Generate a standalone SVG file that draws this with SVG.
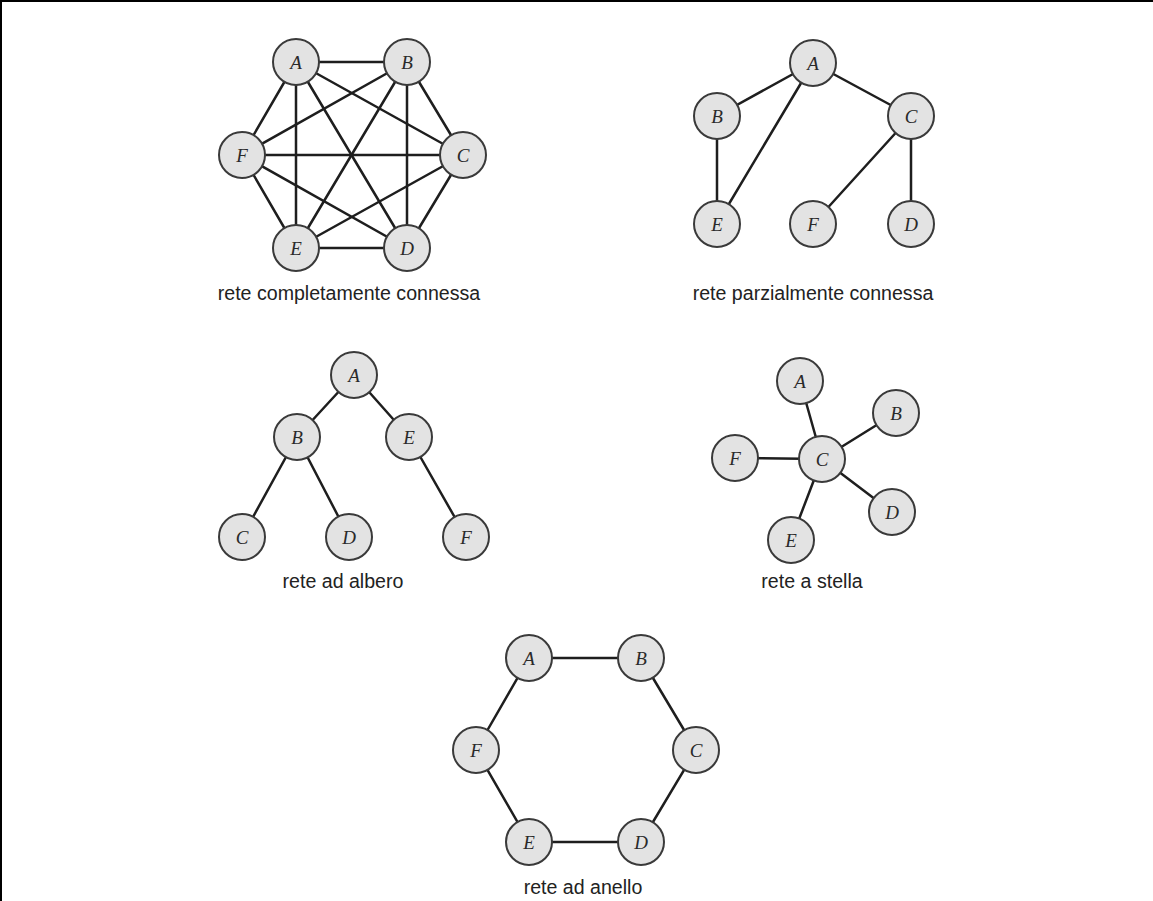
<svg xmlns="http://www.w3.org/2000/svg" width="1153" height="901" viewBox="0 0 1153 901">
<style>
.n circle{fill:#e3e3e3;stroke:#3a3a3a;stroke-width:2}
.n text{font-family:"Liberation Serif","DejaVu Serif",serif;font-style:italic;font-size:19px;fill:#2a2a2a;text-anchor:middle;dominant-baseline:central}
.e line{stroke:#1e1e1e;stroke-width:2.5;stroke-linecap:round}
.cap{font-family:"Liberation Sans",Arial,sans-serif;font-size:19.6px;fill:#222;text-anchor:middle}
</style>
<rect x="0" y="0" width="1153" height="901" fill="#fff"/>
<path d="M1,901 V1 H1153" fill="none" stroke="#000" stroke-width="2"/>
<g id="connectors" class="e">
<!-- completely connected -->
<line x1="296" y1="62" x2="407" y2="62"/>
<line x1="296" y1="62" x2="242" y2="155"/>
<line x1="296" y1="62" x2="463" y2="155"/>
<line x1="296" y1="62" x2="296" y2="248"/>
<line x1="296" y1="62" x2="407" y2="248"/>
<line x1="407" y1="62" x2="242" y2="155"/>
<line x1="407" y1="62" x2="463" y2="155"/>
<line x1="407" y1="62" x2="296" y2="248"/>
<line x1="407" y1="62" x2="407" y2="248"/>
<line x1="242" y1="155" x2="463" y2="155"/>
<line x1="242" y1="155" x2="296" y2="248"/>
<line x1="242" y1="155" x2="407" y2="248"/>
<line x1="463" y1="155" x2="296" y2="248"/>
<line x1="463" y1="155" x2="407" y2="248"/>
<line x1="296" y1="248" x2="407" y2="248"/>
<!-- partially connected -->
<line x1="813" y1="63" x2="717" y2="116"/>
<line x1="813" y1="63" x2="717" y2="224"/>
<line x1="813" y1="63" x2="911" y2="116"/>
<line x1="717" y1="116" x2="717" y2="224"/>
<line x1="911" y1="116" x2="813" y2="224"/>
<line x1="911" y1="116" x2="911" y2="224"/>
<!-- tree -->
<line x1="354" y1="375" x2="297" y2="437"/>
<line x1="354" y1="375" x2="409" y2="437"/>
<line x1="297" y1="437" x2="242" y2="537"/>
<line x1="297" y1="437" x2="349" y2="537"/>
<line x1="409" y1="437" x2="466" y2="537"/>
<!-- star -->
<line x1="822" y1="459" x2="800" y2="381"/>
<line x1="822" y1="459" x2="896" y2="413"/>
<line x1="822" y1="459" x2="735" y2="458"/>
<line x1="822" y1="459" x2="892" y2="512"/>
<line x1="822" y1="459" x2="791" y2="540"/>
<!-- ring -->
<line x1="529" y1="658" x2="641" y2="658"/>
<line x1="641" y1="658" x2="696" y2="750"/>
<line x1="696" y1="750" x2="641" y2="842"/>
<line x1="641" y1="842" x2="529" y2="842"/>
<line x1="529" y1="842" x2="476" y2="750"/>
<line x1="476" y1="750" x2="529" y2="658"/>
</g>
<!-- completely connected -->
<g id="full-A" class="n"><circle cx="296" cy="62" r="23"/><text x="296" y="62">A</text></g>
<g id="full-B" class="n"><circle cx="407" cy="62" r="23"/><text x="407" y="62">B</text></g>
<g id="full-F" class="n"><circle cx="242" cy="155" r="23"/><text x="242" y="155">F</text></g>
<g id="full-C" class="n"><circle cx="463" cy="155" r="23"/><text x="463" y="155">C</text></g>
<g id="full-E" class="n"><circle cx="296" cy="248" r="23"/><text x="296" y="248">E</text></g>
<g id="full-D" class="n"><circle cx="407" cy="248" r="23"/><text x="407" y="248">D</text></g>
<text class="cap" x="349" y="300">rete completamente connessa</text>
<!-- partially connected -->
<g id="part-A" class="n"><circle cx="813" cy="63" r="23"/><text x="813" y="63">A</text></g>
<g id="part-B" class="n"><circle cx="717" cy="116" r="23"/><text x="717" y="116">B</text></g>
<g id="part-C" class="n"><circle cx="911" cy="116" r="23"/><text x="911" y="116">C</text></g>
<g id="part-E" class="n"><circle cx="717" cy="224" r="23"/><text x="717" y="224">E</text></g>
<g id="part-F" class="n"><circle cx="813" cy="224" r="23"/><text x="813" y="224">F</text></g>
<g id="part-D" class="n"><circle cx="911" cy="224" r="23"/><text x="911" y="224">D</text></g>
<text class="cap" x="813" y="300">rete parzialmente connessa</text>
<!-- tree -->
<g id="tree-A" class="n"><circle cx="354" cy="375" r="23"/><text x="354" y="375">A</text></g>
<g id="tree-B" class="n"><circle cx="297" cy="437" r="23"/><text x="297" y="437">B</text></g>
<g id="tree-E" class="n"><circle cx="409" cy="437" r="23"/><text x="409" y="437">E</text></g>
<g id="tree-C" class="n"><circle cx="242" cy="537" r="23"/><text x="242" y="537">C</text></g>
<g id="tree-D" class="n"><circle cx="349" cy="537" r="23"/><text x="349" y="537">D</text></g>
<g id="tree-F" class="n"><circle cx="466" cy="537" r="23"/><text x="466" y="537">F</text></g>
<text class="cap" x="343" y="588">rete ad albero</text>
<!-- star -->
<g id="star-A" class="n"><circle cx="800" cy="381" r="23"/><text x="800" y="381">A</text></g>
<g id="star-B" class="n"><circle cx="896" cy="413" r="23"/><text x="896" y="413">B</text></g>
<g id="star-C" class="n"><circle cx="822" cy="459" r="23"/><text x="822" y="459">C</text></g>
<g id="star-F" class="n"><circle cx="735" cy="458" r="23"/><text x="735" y="458">F</text></g>
<g id="star-D" class="n"><circle cx="892" cy="512" r="23"/><text x="892" y="512">D</text></g>
<g id="star-E" class="n"><circle cx="791" cy="540" r="23"/><text x="791" y="540">E</text></g>
<text class="cap" x="812" y="588">rete a stella</text>
<!-- ring -->
<g id="ring-A" class="n"><circle cx="529" cy="658" r="23"/><text x="529" y="658">A</text></g>
<g id="ring-B" class="n"><circle cx="641" cy="658" r="23"/><text x="641" y="658">B</text></g>
<g id="ring-C" class="n"><circle cx="696" cy="750" r="23"/><text x="696" y="750">C</text></g>
<g id="ring-D" class="n"><circle cx="641" cy="842" r="23"/><text x="641" y="842">D</text></g>
<g id="ring-E" class="n"><circle cx="529" cy="842" r="23"/><text x="529" y="842">E</text></g>
<g id="ring-F" class="n"><circle cx="476" cy="750" r="23"/><text x="476" y="750">F</text></g>
<text class="cap" x="583" y="894">rete ad anello</text>
</svg>
